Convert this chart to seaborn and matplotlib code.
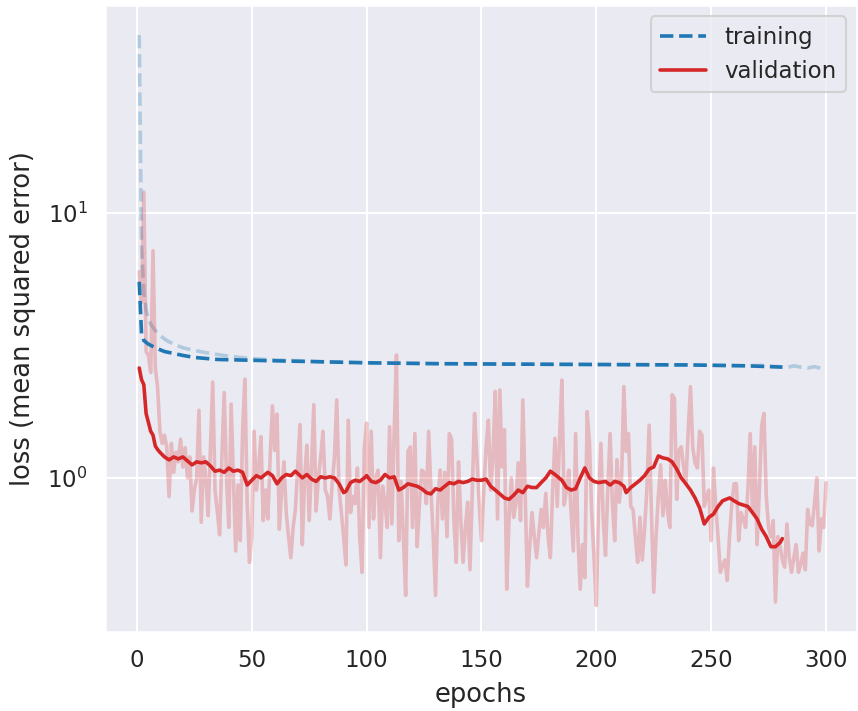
import numpy as np
import pandas as pd
import matplotlib
matplotlib.use("Agg")
import matplotlib.pyplot as plt
import seaborn as sns

# ---------------- data ----------------
val_raw = [
    6.0, 4.6, 12.0, 3.0, 2.9, 2.5, 7.2, 2.6, 2.2, 1.5,
    1.35, 1.45, 1.3, 0.85, 1.35, 1.05, 1.25, 1.15, 1.4, 1.1,
    1.3, 1.0, 1.2, 0.75, 0.9, 1.0, 1.8, 0.68, 1.2, 1.0,
    0.72, 1.3, 2.3, 0.9, 0.75, 0.61, 1.2, 2.1, 1.0, 0.65,
    1.9, 1.0, 0.53, 0.94, 0.58, 1.5, 2.36, 0.8, 0.48, 0.6,
    1.5, 0.9, 1.1, 1.43, 0.69, 0.9, 0.7, 1.2, 1.87, 1.27,
    1.74, 0.64, 0.9, 1.15, 0.74, 0.6, 0.5, 0.65, 0.76, 1.1,
    1.59, 0.56, 1.0, 1.33, 0.69, 1.1, 1.89, 0.75, 1.0, 1.2,
    1.5, 0.9, 0.85, 0.7, 0.95, 1.2, 1.97, 0.9, 0.74, 0.6,
    0.47, 1.65, 0.74, 0.85, 0.8, 1.09, 0.6, 0.44, 1.3, 1.61,
    0.65, 1.5, 0.7, 1.0, 1.07, 0.5, 0.93, 0.8, 0.65, 1.56,
    0.67, 1.5, 2.91, 0.58, 0.97, 0.6, 0.36, 1.26, 1.31, 0.65,
    1.47, 0.55, 0.8, 1.07, 1.05, 0.8, 1.5, 0.9, 0.6, 0.36,
    0.8, 1.07, 0.7, 1.05, 0.6, 1.47, 1.4, 0.7, 0.48, 1.15,
    0.7, 0.48, 0.65, 0.81, 0.45, 0.9, 1.75, 1.2, 0.8, 0.58,
    0.9, 1.3, 1.65, 0.9, 1.2, 2.12, 0.7, 2.15, 1.1, 1.52,
    0.38, 0.7, 1.0, 0.71, 0.8, 1.14, 0.69, 1.97, 0.9, 0.39,
    0.55, 0.74, 0.6, 0.5, 0.62, 0.76, 0.65, 0.875, 0.6, 0.5,
    0.9, 1.41, 0.78, 1.4, 2.34, 0.79, 0.9, 1.07, 0.75, 0.53,
    1.47, 0.6, 0.38, 0.56, 0.42, 1.78, 1.37, 0.74, 0.5, 0.33,
    0.8, 1.35, 0.7, 0.51, 0.9, 1.47, 0.8, 0.58, 1.17, 0.81,
    1.0, 2.21, 1.26, 1.47, 0.78, 0.76, 0.6, 0.48, 0.71, 0.49,
    0.64, 0.9, 1.58, 0.74, 0.37, 0.6, 0.85, 1.12, 0.72, 0.98,
    0.75, 0.65, 2.06, 2.0, 0.83, 1.27, 1.31, 1.1, 0.95, 1.5,
    2.21, 1.3, 1.14, 1.09, 1.5, 1.45, 0.78, 0.85, 0.9, 0.58,
    1.09, 0.78, 0.6, 0.44, 0.47, 0.49, 0.41, 0.6, 0.8, 0.95,
    0.95, 0.58, 0.74, 0.7, 0.65, 0.9, 1.47, 0.74, 1.31, 0.56,
    0.9, 1.58, 1.75, 0.85, 0.65, 0.6, 0.69, 0.34, 0.6, 0.55,
    0.49, 0.46, 0.67, 0.5, 0.44, 0.5, 0.56, 0.44, 0.47, 0.52,
    0.45, 0.76, 0.67, 0.66, 0.8, 1.0, 0.53, 0.7, 0.65, 0.96,
]
val_epochs = list(range(1, len(val_raw) + 1))

val_smooth_epochs = [
    1, 2, 3, 4, 5, 6, 7, 8, 9, 10, 12, 14, 16, 18, 20, 22, 24, 26, 28, 30,
    32, 34, 36, 38, 40, 42, 44, 46, 48, 50, 52, 54, 57, 59, 61, 63, 65, 67, 69, 72,
    74, 76, 78, 80, 82, 84, 86, 88, 90, 91, 93, 95, 97, 99, 100, 102, 104, 106, 108, 110,
    112, 114, 116, 118, 120, 122, 124, 126, 128, 130, 132, 134, 136, 138, 140, 142, 144, 146, 148, 150,
    152, 154, 156, 158, 160, 162, 164, 166, 168, 170, 172, 174, 176, 178, 180, 182, 185, 187, 189, 191,
    193, 195, 197, 199, 201, 204, 206, 208, 210, 212, 213, 215, 217, 219, 221, 223, 225, 227, 229, 231,
    233, 235, 237, 239, 241, 243, 245, 247, 249, 251, 253, 255, 258, 260, 262, 264, 266, 268, 270, 272,
    274, 276, 278, 280, 281,
]
val_smooth = [
    2.6, 2.35, 2.25, 1.75, 1.62, 1.5, 1.45, 1.32, 1.28, 1.25, 1.2, 1.17, 1.2, 1.18, 1.2, 1.16, 1.12, 1.15, 1.14, 1.15,
    1.11, 1.06, 1.07, 1.05, 1.09, 1.06, 1.07, 1.05, 0.94, 0.98, 1.02, 1.0, 1.05, 1.02, 0.95, 1.0, 1.03, 1.02, 1.06, 1.0,
    1.03, 0.99, 0.97, 1.01, 1.0, 1.01, 1.0, 0.95, 0.88, 0.89, 0.96, 0.98, 0.97, 1.0, 1.02, 0.97, 0.96, 0.98, 1.03, 1.0,
    1.01, 0.9, 0.92, 0.95, 0.94, 0.93, 0.91, 0.88, 0.87, 0.91, 0.9, 0.93, 0.96, 0.95, 0.97, 0.96, 0.97, 0.99, 0.98, 0.98,
    0.99, 0.93, 0.9, 0.87, 0.84, 0.83, 0.86, 0.9, 0.88, 0.93, 0.92, 0.92, 0.96, 1.0, 1.06, 1.03, 0.98, 0.92, 0.9, 0.91,
    1.0, 1.09, 1.0, 0.97, 0.96, 0.97, 0.94, 0.97, 0.96, 0.93, 0.88, 0.92, 0.95, 0.98, 1.02, 1.08, 1.1, 1.21, 1.19, 1.18,
    1.15, 1.08, 1.0, 0.95, 0.9, 0.84, 0.77, 0.67, 0.71, 0.73, 0.78, 0.82, 0.84, 0.82, 0.8, 0.79, 0.78, 0.74, 0.7, 0.64,
    0.6, 0.55, 0.55, 0.57, 0.59,
]

train_raw_epochs = [1, 2, 3, 4, 5, 6, 8, 10, 13, 16, 20, 25, 30, 40, 50, 60, 80, 100, 130, 160,
                    200, 240, 265, 272, 276, 280, 283, 286, 289, 292, 295, 298, 300]
train_raw = [47.0, 7.5, 5.0, 4.3, 4.0, 3.8, 3.6, 3.45, 3.3, 3.2, 3.1, 3.03, 2.97, 2.88, 2.82, 2.79, 2.75, 2.72, 2.7, 2.69,
             2.68, 2.67, 2.65, 2.66, 2.64, 2.63, 2.61, 2.65, 2.62, 2.6, 2.63, 2.59, 2.6]

train_smooth_epochs = [1, 2, 3, 5, 8, 12, 16, 20, 25, 35, 50, 75, 100, 130, 160, 200, 240, 265, 281]
train_smooth = [5.5, 3.5, 3.3, 3.2, 3.1, 3.0, 2.95, 2.9, 2.85, 2.8, 2.78, 2.75, 2.72, 2.7, 2.69, 2.68, 2.67, 2.65, 2.62]

# ---------------- plot ----------------
sns.set_theme(style="darkgrid", context="talk")
blue = "#1f77b4"
red = "#d62728"

fig = plt.figure(figsize=(8.58, 7.11), dpi=100)
ax = fig.add_axes([105 / 858, 1 - 632 / 711, (857 - 105) / 858, (632 - 5) / 711])

sns.lineplot(x=train_raw_epochs, y=train_raw, ax=ax, color=blue, alpha=0.28,
             linestyle="--", lw=2.6)
sns.lineplot(x=val_epochs, y=val_raw, ax=ax, color=red, alpha=0.25, lw=2.6)
sns.lineplot(x=train_smooth_epochs, y=train_smooth, ax=ax, color=blue,
             linestyle="--", lw=2.6, label="training")
sns.lineplot(x=val_smooth_epochs, y=val_smooth, ax=ax, color=red, lw=2.6,
             label="validation")

ax.set_yscale("log")
ax.set_xlim(-13.9, 313.5)
ax.set_ylim(0.262, 61)
ax.set_xticks([0, 50, 100, 150, 200, 250, 300])
ax.set_xlabel("epochs", fontsize=18.5, labelpad=7)
ax.set_ylabel("loss (mean squared error)", fontsize=18.5, labelpad=8)
ax.legend(loc="upper right")

fig.savefig("out.png", dpi=100)
